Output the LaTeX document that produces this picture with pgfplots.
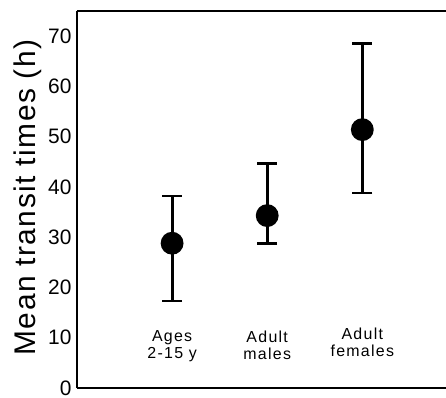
\documentclass[border=0pt]{standalone}
\usepackage{fontspec}
\setmainfont{Liberation Sans}
\usepackage{pgfplots}
\pgfplotsset{compat=1.18}
\begin{document}
\begin{tikzpicture}
\begin{axis}[
  scale only axis,
  width=369bp, height=377bp,
  xmin=0, xmax=3.88,
  ymin=0, ymax=75,
  axis lines=left,
  axis line style={-, line width=2.8bp},
  xtick=\empty,
  ytick={0,10,...,70},
  major tick length=0pt,
  yticklabel style={font=\fontsize{21}{21}\selectfont, xshift=-2bp},
  /pgf/number format/assume math mode=true,
  ylabel={Mean transit times (h)},
  ylabel style={font=\fontsize{30}{30}\selectfont\addfontfeature{LetterSpace=5}, xshift=2bp},
  clip=false,
]
\addplot[only marks, mark=*, mark size=10bp, black, line width=2.8bp,
  error bars/.cd, y dir=both, y explicit,
  error bar style={line width=2.8bp},
  error mark options={rotate=90, mark size=10bp, line width=2.8bp}]
  coordinates {
  (1,28.8) +- (0,9.4) -= (0,11.5)
  (2,34.3) +- (0,10.4) -= (0,5.5)
  (3,51.4) +- (0,17.2) -= (0,12.6)
  };
\addplot[only marks, mark=*, mark size=10bp, black, forget plot] coordinates {(1,28.8) (2,34.3) (3,51.4)};
\draw[line width=2.8bp] (rel axis cs:0,1) -- (rel axis cs:1,1);
\node[align=center, font=\fontsize{16}{17}\selectfont\addfontfeature{LetterSpace=8}] at (axis cs:1,8.3) {Ages\\2-15 y};
\node[align=center, font=\fontsize{16}{17}\selectfont\addfontfeature{LetterSpace=8}] at (axis cs:2,8.5) {Adult\\males};
\node[align=center, font=\fontsize{16}{17}\selectfont\addfontfeature{LetterSpace=8}] at (axis cs:3,9.0) {Adult\\females};
\end{axis}
\pgfresetboundingbox
\path ([xshift=-77bp,yshift=-10bp]current axis.south west) rectangle ([yshift=11bp]current axis.north east);
\end{tikzpicture}
\end{document}
